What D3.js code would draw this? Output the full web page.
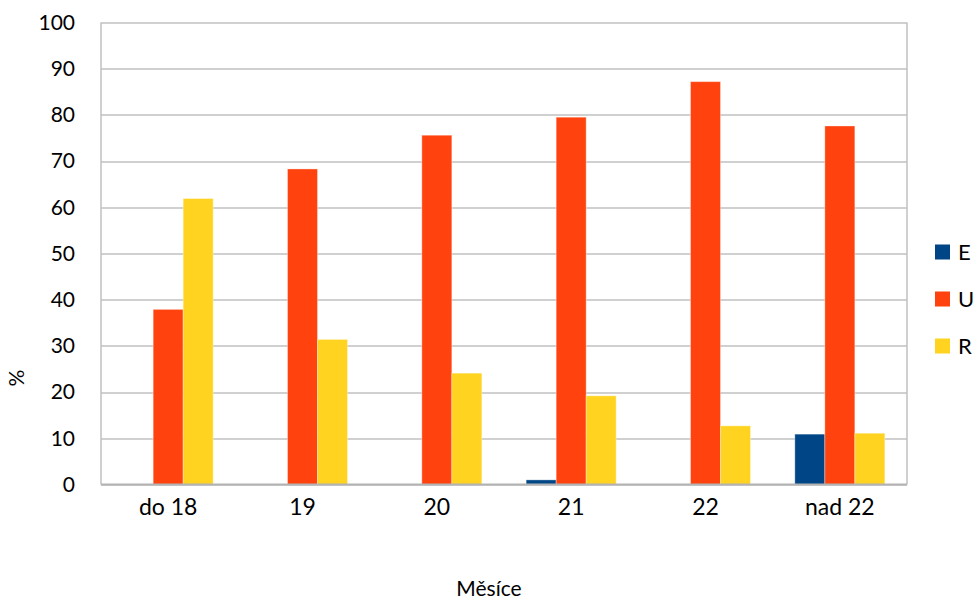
<!DOCTYPE html>
<html>
<head>
<meta charset="utf-8">
<script src="https://cdn.jsdelivr.net/npm/d3@7"></script>
<style>
  html, body { margin: 0; padding: 0; background: #fff; }
  svg { display: block; font-family: Lato, "Liberation Sans", sans-serif; }
</style>
</head>
<body>
<svg id="chart" width="977" height="600"></svg>
<script>
// Month groups along the x axis
const categories = ["do 18", "19", "20", "21", "22", "nad 22"];
// Series names and their shares (%) per month group
const seriesNames = ["E", "U", "R"];
const valuesE = [0, 0, 0, 1.0, 0, 10.9];
const valuesU = [37.9, 68.3, 75.6, 79.5, 87.2, 77.6];
const valuesR = [61.9, 31.4, 24.1, 19.2, 12.7, 11.1];
const yTicks = [0, 10, 20, 30, 40, 50, 60, 70, 80, 90, 100];
const colors = ["#004586", "#ff420e", "#ffd320"];

const seriesValues = [valuesE, valuesU, valuesR];
const rows = categories.map((c, i) => ({
  cat: c,
  vals: seriesNames.map((s, j) => ({ key: s, value: seriesValues[j][i], color: colors[j] }))
}));

const svg = d3.select("#chart");
const margin = { left: 101, right: 70, top: 22.5, bottom: 115.5 };
const W = 977, H = 600;
const plotW = W - margin.left - margin.right;
const plotH = H - margin.top - margin.bottom;

const x0 = d3.scaleBand().domain(categories).range([0, plotW])
  .paddingInner(0.33).paddingOuter(0.165);
const x1 = d3.scaleBand().domain(seriesNames).range([0, x0.bandwidth()]).padding(0);
const y = d3.scaleLinear().domain([0, 100]).range([plotH, 0]);

const g = svg.append("g").attr("transform", `translate(${margin.left},${margin.top})`);

// horizontal gridlines
g.append("g").selectAll("line").data(yTicks).join("line")
  .attr("x1", 0).attr("x2", plotW)
  .attr("y1", d => Math.round(y(d)) + 0.5).attr("y2", d => Math.round(y(d)) + 0.5)
  .attr("stroke", "#c0c0c0").attr("stroke-width", 1.5);

// plot frame: left and right edges
g.append("line").attr("x1", 0).attr("x2", 0).attr("y1", 0).attr("y2", plotH)
  .attr("stroke", "#c0c0c0").attr("stroke-width", 1.5);
g.append("line").attr("x1", plotW).attr("x2", plotW).attr("y1", 0).attr("y2", plotH)
  .attr("stroke", "#c0c0c0").attr("stroke-width", 1.5);

// bars
const groups = g.append("g").selectAll("g").data(rows).join("g")
  .attr("transform", d => `translate(${x0(d.cat)},0)`);
groups.selectAll("rect").data(d => d.vals.filter(v => v.value > 0)).join("rect")
  .attr("x", d => x1(d.key))
  .attr("y", d => y(d.value))
  .attr("width", x1.bandwidth())
  .attr("height", d => plotH - y(d.value))
  .attr("fill", d => d.color)
  .attr("stroke", "rgba(255,255,255,0.35)")
  .attr("stroke-width", 1);

// axis baseline
g.append("line").attr("x1", 0).attr("x2", plotW).attr("y1", plotH).attr("y2", plotH)
  .attr("stroke", "#b3b3b3").attr("stroke-width", 2);

// y axis labels
const yAxis = d3.axisLeft(y).tickValues(yTicks).tickSize(0).tickPadding(26);
const ya = g.append("g").call(yAxis);
ya.select(".domain").remove();
ya.selectAll("text").attr("font-size", 21).attr("fill", "#000")
  .style("font-family", "Lato, 'Liberation Sans', sans-serif");

// x axis labels
const xAxis = d3.axisBottom(x0).tickSize(0).tickPadding(14);
const xa = g.append("g").attr("transform", `translate(0,${plotH})`).call(xAxis);
xa.select(".domain").remove();
xa.selectAll("text").attr("font-size", 23).attr("fill", "#000")
  .style("font-family", "Lato, 'Liberation Sans', sans-serif");

// axis titles
svg.append("text").attr("x", 489).attr("y", 596).attr("text-anchor", "middle")
  .attr("font-size", 21).text("Měsíce");
svg.append("text").attr("transform", "translate(24,378) rotate(-90)")
  .attr("text-anchor", "middle").attr("font-size", 21).text("%");

// legend
const legend = svg.append("g").attr("transform", "translate(935,252)");
const li = legend.selectAll("g").data(seriesNames).join("g")
  .attr("transform", (d, i) => `translate(0,${i * 47})`);
li.append("rect").attr("x", 0).attr("y", -7.5).attr("width", 15).attr("height", 15)
  .attr("fill", (d, i) => colors[i]);
li.append("text").attr("x", 23).attr("y", 0).attr("dy", "0.36em")
  .attr("font-size", 22).text(d => d);
</script>
</body>
</html>
